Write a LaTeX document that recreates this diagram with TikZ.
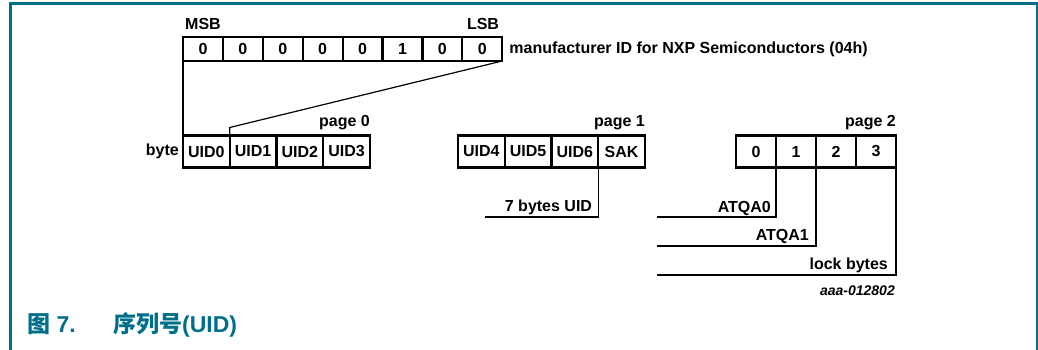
\documentclass[tikz,border=0pt]{standalone}
\usepackage{fontspec}
\setmainfont{Liberation Sans}
\newfontfamily\cjk{Noto Sans CJK SC}
\usetikzlibrary{positioning}
\definecolor{nxpteal}{RGB}{0,112,138}
\tikzset{
	cellA/.style={
		draw, line width=2.2pt, inner sep=0pt, outer sep=0pt,
		font={\fontsize{16}{18}\selectfont\bfseries}
	},
	bitbox/.style={cellA, minimum width=\bitW pt, minimum height=24pt},
	uidbox/.style={cellA, minimum width=\uidW pt, minimum height=32pt},
	pgbox/.style={cellA, minimum width=\pgW pt, minimum height=32pt},
	lbl/.style={inner sep=0pt, font={\fontsize{16}{18}\selectfont\bfseries}},
	idlbl/.style={inner sep=0pt, font={\fontsize{14}{16}\selectfont\bfseries\itshape}},
	link/.style={line width=1.2pt},
	frameline/.style={color=nxpteal},
	capfont/.style={inner sep=0pt, color=nxpteal, font={\fontsize{23}{26}\selectfont\bfseries}},
}
\def\bitW{39.9}
\def\uidW{46.75}
\def\pgW{40}

\begin{document}
\begin{tikzpicture}[x=1pt, y=-1pt]
\useasboundingbox (0,0) rectangle (1038,350);
% frame
\draw[frameline, line width=3pt] (10,350) -- (10,4) -- (1038,4);
\draw[frameline, line width=1.5pt] (1037,4) -- (1037,350);

% manufacturer byte
\foreach \b [count=\i] in {0,0,0,0,0,1,0,0}
	\node[bitbox] (bit\i) at ({183+\bitW*(\i-0.5)},49) {\b};
\node[lbl, anchor=base west] (msb) at ([xshift=2pt, yshift=7pt]bit1.north west) {MSB};
\node[lbl, anchor=base east] (lsb) at ([xshift=-3pt, yshift=7pt]bit8.north east) {LSB};
\node[lbl, right=7pt of bit8] (mfr) {manufacturer ID for NXP Semiconductors (04h)};

% page 0
\foreach \t [count=\i from 0] in {UID0,UID1,UID2,UID3}
	\node[uidbox] (uid\i) at ({183+\uidW*(\i+0.5)},151.5) {\t};
\node[lbl, left=4pt of uid0] (byte) {byte};
\node[lbl, anchor=base east] (page0) at ([yshift=9pt]uid3.north east) {page 0};

% page 1
\foreach \t/\n [count=\i from 0] in {UID4/uid4,UID5/uid5,UID6/uid6,SAK/sak}
	\node[uidbox] (\n) at ({458+\uidW*(\i+0.5)},151.5) {\t};
\node[lbl, anchor=base east] (page1) at ([yshift=9pt]sak.north east) {page 1};

% page 2
\foreach \t [count=\i from 0] in {0,1,2,3}
	\node[pgbox] (pg\i) at ({736+\pgW*(\i+0.5)},151.5) {\t};
\node[lbl, anchor=base east] (page2) at ([yshift=9pt]pg3.north east) {page 2};

% connectors
\draw[link] (bit1.south west) -- (uid0.north west);
\draw[link] (bit8.south east) -- ([yshift=8pt]uid1.north west) -- (uid1.north west);

\coordinate (uidend) at (485,217);
\coordinate (atqa0end) at (657,217);
\coordinate (atqa1end) at (657,246);
\coordinate (lockend) at (657,275);
\draw[link] (uid6.south east) |- (uidend);
\draw[link] (pg0.south east) |- (atqa0end);
\draw[link] (pg1.south east) |- (atqa1end);
\draw[link] (pg3.south east) |- (lockend);

\node[lbl, anchor=base east] (uidlbl) at ([xshift=-6pt, yshift=6pt]uid6.south east |- uidend) {7 bytes UID};
\node[lbl, anchor=base east] (atqa0) at ([xshift=-5pt, yshift=5pt]pg0.south east |- atqa0end) {ATQA0};
\node[lbl, anchor=base east] (atqa1) at ([xshift=-7pt, yshift=6pt]pg1.south east |- atqa1end) {ATQA1};
\node[lbl, anchor=base east] (lock) at ([xshift=-8pt, yshift=5.5pt]pg3.south east |- lockend) {lock bytes};
\node[idlbl, anchor=east] (figid) at ([xshift=-1pt, yshift=-16pt]pg3.south east |- lockend) {aaa-012802};

% caption
\node[capfont, anchor=base west] (fignum) at (27,332) {{\cjk 图} 7.};
\node[capfont, anchor=base west] (figtitle) at (113,332) {{\cjk 序列号}(UID)};
\end{tikzpicture}
\end{document}
